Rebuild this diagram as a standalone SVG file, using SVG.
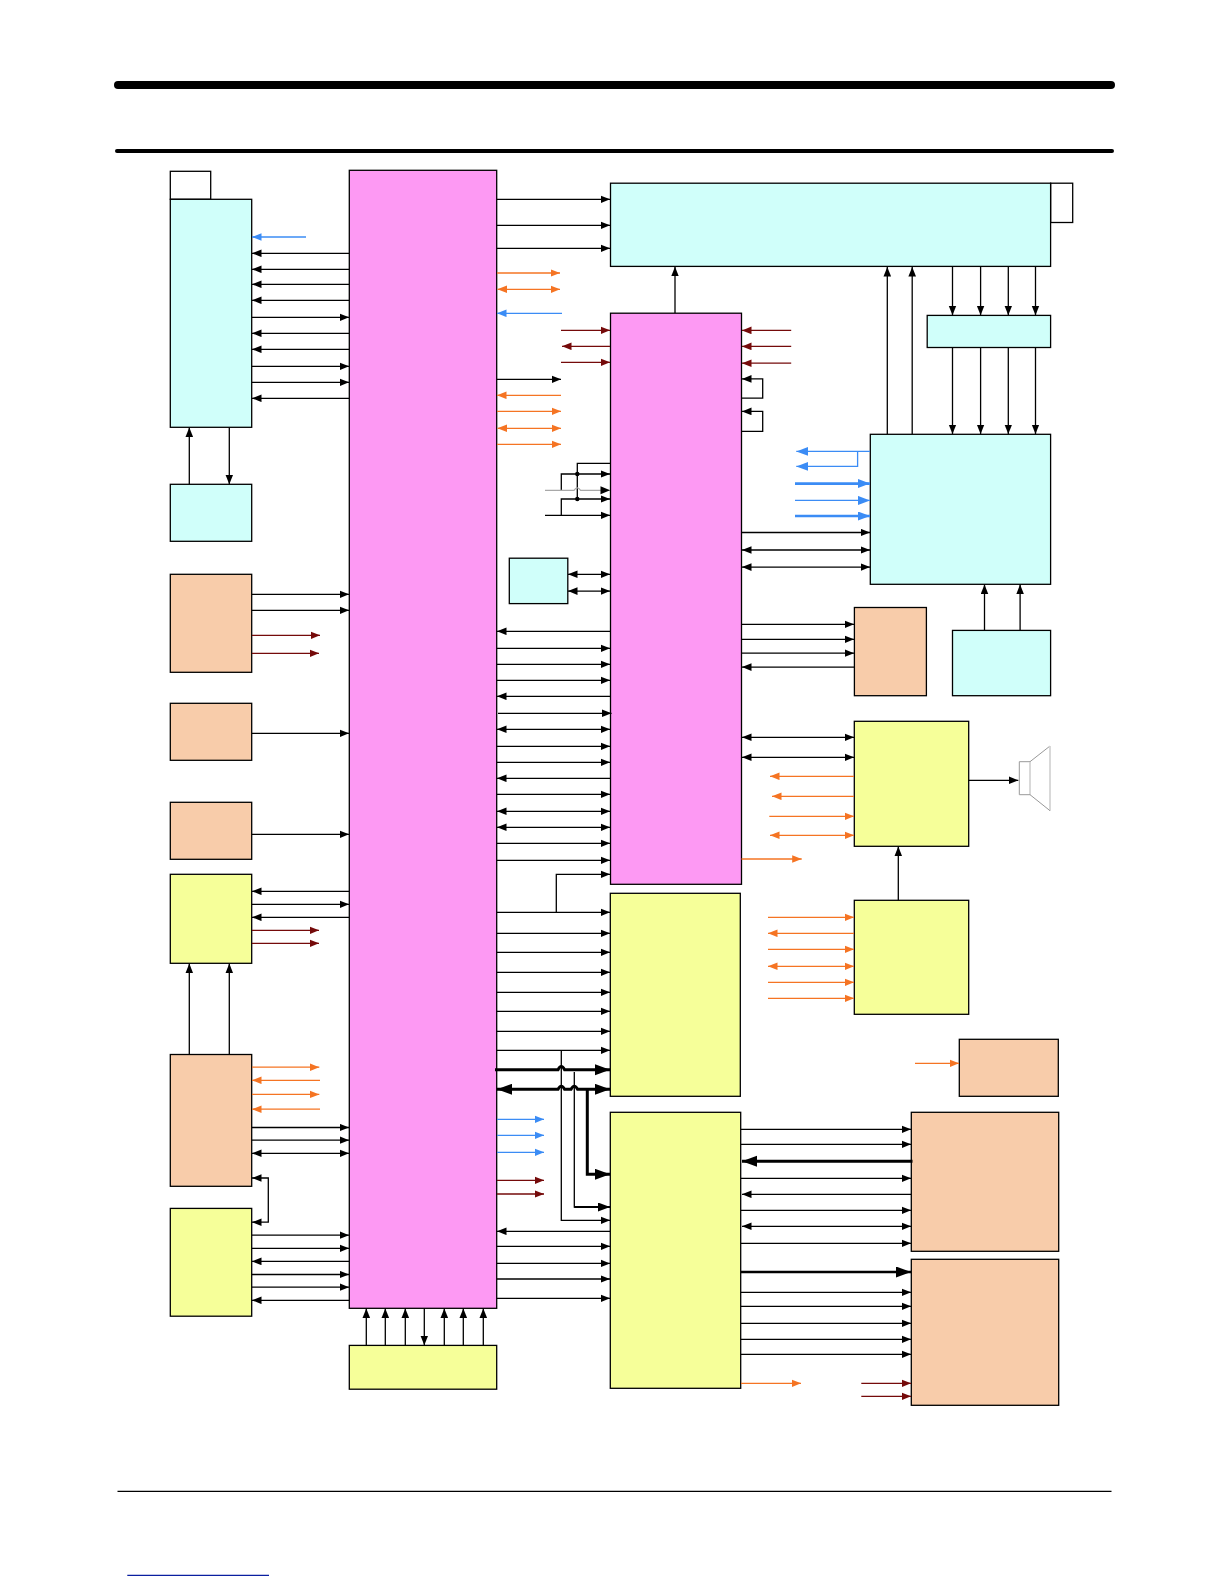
<svg xmlns="http://www.w3.org/2000/svg" width="1224" height="1584" viewBox="0 0 1224 1584">
<style>
.n{stroke:#000;stroke-width:1.3}
.m{fill:#FD99F3}.c{fill:#D0FFFA}.p{fill:#F8CCAA}.y{fill:#F6FF99}.w{fill:#fff}
path{fill:none}
.k{stroke:#000;stroke-width:1.3;marker-end:url(#ke)}
.kp{stroke:#000;stroke-width:1.3}
.kb{stroke:#000;stroke-width:1.3;marker-start:url(#ks);marker-end:url(#ke)}
.t{stroke:#000;stroke-width:3;marker-end:url(#be)}
.o{stroke:#F57423;stroke-width:1.3;marker-end:url(#oe)}
.ob{stroke:#F57423;stroke-width:1.3;marker-start:url(#os);marker-end:url(#oe)}
.b{stroke:#3B8CF5;stroke-width:1.3;marker-end:url(#ue)}
.bb{stroke:#3B8CF5;stroke-width:2.6;marker-end:url(#ve)}
.bm{stroke:#3B8CF5;stroke-width:1.3;marker-end:url(#ve)}
.r{stroke:#750A0A;stroke-width:1.3;marker-end:url(#re)}
</style>
<defs>
<marker id="ke" markerUnits="userSpaceOnUse" markerWidth="11" markerHeight="9" refX="9.5" refY="4" orient="auto"><polygon points="0,0.2 9.5,4 0,7.8" fill="#000"/></marker>
<marker id="ks" markerUnits="userSpaceOnUse" markerWidth="11" markerHeight="9" refX="0" refY="4" orient="auto"><polygon points="9.5,0.2 0,4 9.5,7.8" fill="#000"/></marker>
<marker id="me" markerUnits="userSpaceOnUse" markerWidth="13" markerHeight="10" refX="12" refY="4.5" orient="auto"><polygon points="0,0 12,4.5 0,9" fill="#000"/></marker>
<marker id="be" markerUnits="userSpaceOnUse" markerWidth="16" markerHeight="12" refX="15" refY="5.5" orient="auto"><polygon points="0,0 15,5.5 0,11" fill="#000"/></marker>
<marker id="bs" markerUnits="userSpaceOnUse" markerWidth="16" markerHeight="12" refX="0" refY="5.5" orient="auto"><polygon points="15,0 0,5.5 15,11" fill="#000"/></marker>
<marker id="oe" markerUnits="userSpaceOnUse" markerWidth="11" markerHeight="9" refX="9.5" refY="4" orient="auto"><polygon points="0,0.2 9.5,4 0,7.8" fill="#F57423"/></marker>
<marker id="os" markerUnits="userSpaceOnUse" markerWidth="11" markerHeight="9" refX="0" refY="4" orient="auto"><polygon points="9.5,0.2 0,4 9.5,7.8" fill="#F57423"/></marker>
<marker id="ue" markerUnits="userSpaceOnUse" markerWidth="11" markerHeight="9" refX="9.5" refY="4" orient="auto"><polygon points="0,0.2 9.5,4 0,7.8" fill="#3B8CF5"/></marker>
<marker id="ve" markerUnits="userSpaceOnUse" markerWidth="13" markerHeight="10" refX="12" refY="4.5" orient="auto"><polygon points="0,0 12,4.5 0,9" fill="#3B8CF5"/></marker>
<marker id="re" markerUnits="userSpaceOnUse" markerWidth="11" markerHeight="9" refX="9.5" refY="4" orient="auto"><polygon points="0,0.2 9.5,4 0,7.8" fill="#750A0A"/></marker>
</defs>
<g id="rules" fill="none" stroke-linecap="round">
<path d="M118 85H1111" stroke="#000" stroke-width="8"/>
<path d="M117 151H1112" stroke="#000" stroke-width="4"/>
<path d="M117.5 1491.3H1111.5" stroke="#000" stroke-width="1.3" stroke-linecap="butt"/>
<path d="M127.3 1575.3H269" stroke="#0A1FA0" stroke-width="1.3" stroke-linecap="butt"/>
</g>
<g id="node-a-cap"><rect class="n w" x="170.3" y="171.3" width="40.4" height="28"/></g>
<g id="node-a"><rect class="n c" x="170.3" y="199.3" width="81.4" height="228"/></g>
<g id="node-b"><rect class="n c" x="170.3" y="484.3" width="81.4" height="57"/></g>
<g id="node-main"><rect class="n m" x="349.3" y="170.3" width="147.4" height="1138"/></g>
<g id="node-top-cap"><rect class="n w" x="1050.6" y="183.2" width="22.1" height="39.3"/></g>
<g id="node-top"><rect class="n c" x="610.5" y="183.2" width="440.1" height="83.2"/></g>
<g id="node-pink2"><rect class="n m" x="610.5" y="313.2" width="131" height="571.1"/></g>
<g id="node-smallc"><rect class="n c" x="927.2" y="315.4" width="123.4" height="32.1"/></g>
<g id="node-bigc"><rect class="n c" x="870.3" y="434.3" width="180.3" height="150"/></g>
<g id="node-lowc"><rect class="n c" x="952.5" y="630.4" width="98.1" height="65.3"/></g>
<g id="node-midc"><rect class="n c" x="509.3" y="558.2" width="58.5" height="45.4"/></g>
<g id="node-rp"><rect class="n p" x="854.4" y="607.5" width="72" height="88.2"/></g>
<g id="node-p1"><rect class="n p" x="170.3" y="574.3" width="81.4" height="98"/></g>
<g id="node-p2"><rect class="n p" x="170.3" y="703.3" width="81.4" height="57"/></g>
<g id="node-p3"><rect class="n p" x="170.3" y="802.3" width="81.4" height="57"/></g>
<g id="node-y1"><rect class="n y" x="170.3" y="874.3" width="81.4" height="89"/></g>
<g id="node-p4"><rect class="n p" x="170.3" y="1054.5" width="81.4" height="131.8"/></g>
<g id="node-y2"><rect class="n y" x="170.3" y="1208.4" width="81.4" height="107.8"/></g>
<g id="node-y3"><rect class="n y" x="349.3" y="1345.4" width="147.4" height="43.8"/></g>
<g id="node-yu"><rect class="n y" x="854.3" y="721.3" width="114.4" height="125"/></g>
<g id="node-yl"><rect class="n y" x="854.3" y="900.3" width="114.4" height="114"/></g>
<g id="node-yc"><rect class="n y" x="610.3" y="893.3" width="130" height="203"/></g>
<g id="node-yd"><rect class="n y" x="610.3" y="1112.3" width="130.4" height="276"/></g>
<g id="node-ps"><rect class="n p" x="959.3" y="1039.3" width="99" height="57"/></g>
<g id="node-pa"><rect class="n p" x="911.3" y="1112.3" width="147.4" height="139"/></g>
<g id="node-pb"><rect class="n p" x="911.3" y="1259.3" width="147.4" height="146"/></g>
<g id="node-speaker"><path d="M1019.3 761.7H1030V794.7H1019.3ZM1030 761.7L1050 746V810.7L1030 794.7" stroke="#999" stroke-width="1"/><path d="M1030 762V794M1050 746V810" stroke="#ddd" stroke-width="1.6"/></g>
<g id="connectors">
<path class="b" d="M306 237H252"/>
<path class="k" d="M349 253.3H252"/><path class="k" d="M349 269.3H252"/><path class="k" d="M349 284.3H252"/><path class="k" d="M349 300.3H252"/>
<path class="k" d="M252 317.3H349"/><path class="k" d="M349 333.3H252"/><path class="k" d="M349 349.3H252"/><path class="k" d="M252 366.3H349"/><path class="k" d="M252 382.3H349"/><path class="k" d="M349 398.3H252"/>
<path class="k" d="M189.3 484.3V427.5"/><path class="k" d="M229.3 427.5V484.3"/>
<path class="k" d="M497 199.3H610"/><path class="k" d="M497 225.3H610"/><path class="k" d="M497 248.3H610"/>
<path class="o" d="M497 273H560"/><path class="ob" d="M497.5 289.3H560"/><path class="b" d="M562 313.3H497"/>
<path class="r" d="M561 330.3H610"/><path class="r" d="M610 346.3H562"/><path class="r" d="M561 362.3H610"/>
<path class="k" d="M497 379.3H561"/><path class="o" d="M561 395.3H497"/><path class="o" d="M497 411.3H561"/><path class="ob" d="M497.5 428.3H561"/><path class="o" d="M497 444.3H561"/>
<path class="kp" d="M610.5 463.3H577.3V499"/>
<path class="k" d="M561.3 490V474H610"/>
<path d="M545 490.3H574Q577.3 485.5 580.6 490.3H610" stroke="#a8a8a8" stroke-width="1.2"/>
<polygon points="600.5,486.3 610,490.3 600.5,494.3" fill="#000"/>
<path class="k" d="M561.3 515.3V499H610"/>
<path class="k" d="M545 515.3H610"/>
<circle cx="577.3" cy="474" r="2.2" fill="#000"/><circle cx="577.3" cy="499" r="2.2" fill="#000"/>
<path class="k" d="M675 313V266.8"/><path class="k" d="M887.3 434V267"/><path class="k" d="M912.2 434V267"/>
<path class="k" d="M952.5 266.4V315.2"/><path class="k" d="M980.6 266.4V315.2"/><path class="k" d="M1008.3 266.4V315.2"/><path class="k" d="M1035.5 266.4V315.2"/>
<path class="k" d="M952.5 347.5V434"/><path class="k" d="M980.6 347.5V434"/><path class="k" d="M1008.3 347.5V434"/><path class="k" d="M1035.5 347.5V434"/>
<path class="k" d="M984.5 630.4V584.6"/><path class="k" d="M1020.1 630.4V584.6"/>
<path class="kb" d="M568 574.3H610"/><path class="kb" d="M568 591.1H610"/>
<path class="r" d="M791.2 330.4H742"/><path class="r" d="M791.2 346.4H742"/><path class="r" d="M791.2 363.2H742"/>
<path class="k" d="M741.5 398.2H762.7V378.9H742"/><path class="k" d="M741.5 431.4H762.7V411.4H742"/>
<path class="bm" d="M870 451.4H796.3"/><path class="bm" d="M857.6 451.4V466.4H796.3"/>
<path class="bb" d="M795 483.6H870"/><path class="bm" d="M795 500.4H870"/><path class="bb" d="M795 516H870"/>
<path class="k" d="M741.5 532.5H870"/><path class="kb" d="M742 550H870"/><path class="kb" d="M742 567.1H870"/>
<path class="k" d="M741.5 624.3H854"/><path class="k" d="M741.5 639.3H854"/><path class="k" d="M741.5 653.2H854"/><path class="k" d="M854 667.1H742"/>
<path class="k" d="M252 594.3H349"/><path class="k" d="M252 610.3H349"/>
<path class="r" d="M252 635.3H320"/><path class="r" d="M252 653.3H319"/>
<path class="k" d="M252 733.3H349"/><path class="k" d="M252 834.3H349"/>
<path class="k" d="M349 891.3H252"/><path class="k" d="M252 904.3H349"/><path class="k" d="M349 917.3H252"/>
<path class="r" d="M252 930.3H319"/><path class="r" d="M252 943.3H319"/>
<path class="k" d="M189.3 1054.5V963.6"/><path class="k" d="M229.3 1054.5V963.6"/>
<path class="o" d="M252 1067.2H319.3"/><path class="o" d="M320 1080.3H252"/><path class="o" d="M252 1094.4H319.3"/><path class="o" d="M320 1109.2H252"/>
<path class="k" d="M252 1127.5H349"/><path class="k" d="M252 1140.2H349"/><path class="kb" d="M252 1153.3H349"/>
<path class="kb" d="M252 1178H268.3V1222.2H252"/>
<path class="k" d="M252 1235.2H349"/><path class="k" d="M252 1248.3H349"/><path class="k" d="M349 1261.4H252"/><path class="k" d="M252 1274.5H349"/><path class="k" d="M252 1287.2H349"/><path class="k" d="M349 1300.3H252"/>
<path class="k" d="M366.3 1345.4V1308.5"/><path class="k" d="M385.3 1345.4V1308.5"/><path class="k" d="M405.3 1345.4V1308.5"/><path class="k" d="M424.3 1308.3V1345.2"/><path class="k" d="M444.3 1345.4V1308.5"/><path class="k" d="M463.3 1345.4V1308.5"/><path class="k" d="M483.3 1345.4V1308.5"/>
<path class="k" d="M610 631.3H497"/><path class="k" d="M497 648.3H610"/><path class="k" d="M497 664.3H610"/><path class="k" d="M497 680.3H610"/><path class="k" d="M610 696.3H497"/><path class="k" d="M498 713.3H611.5"/><path class="kb" d="M497 729.3H610"/><path class="k" d="M497 746.3H610"/><path class="k" d="M497 762.3H610"/><path class="k" d="M610 778.3H497"/><path class="k" d="M497 794.3H610"/><path class="kb" d="M497 811.3H610"/><path class="kb" d="M497 827.3H610"/><path class="k" d="M497 843.3H610"/><path class="k" d="M497 860.3H610"/>
<path class="k" d="M556.3 912.3V874.3H610"/><path class="k" d="M497 912.3H610"/>
<path class="k" d="M497 933.3H610"/><path class="k" d="M497 952.3H610"/><path class="k" d="M497 972.3H610"/><path class="k" d="M497 992.3H610"/><path class="k" d="M497 1011.3H610"/><path class="k" d="M497 1031.3H610"/><path class="k" d="M497 1050.3H610"/>
<path class="kb" d="M742 737.3H854"/><path class="kb" d="M742 757.3H854"/>
<path class="o" d="M854 776.3H770"/><path class="o" d="M854 796.3H772"/><path class="o" d="M769.3 816.3H854"/><path class="ob" d="M770 835.3H854"/><path class="o" d="M741.5 859H801.7"/>
<path class="k" d="M968.7 780.3H1018.3"/><path class="k" d="M898.3 900.3V846.6"/>
<path class="o" d="M768 917.3H854"/><path class="o" d="M854 933.3H768"/><path class="o" d="M768 949.3H854"/><path class="ob" d="M768 966.3H854"/><path class="o" d="M768 982.3H854"/><path class="o" d="M768 998.3H854"/>
<path class="o" d="M915 1063.3H959"/>
<path class="t" d="M495 1069.7H558Q561.3 1063.5 564.6 1069.7H610"/>
<path d="M497 1089.3H558Q561.3 1083 564.6 1089.3H571Q574.3 1083 577.6 1089.3H610" stroke="#000" stroke-width="3" marker-start="url(#bs)" marker-end="url(#be)"/>
<path class="k" d="M561.3 1050.3V1220.3H610"/>
<path d="M574.3 1072V1207H610" stroke="#000" stroke-width="1.3"/>
<path d="M574.3 1207H610" stroke="#000" stroke-width="2" marker-end="url(#me)"/>
<path class="t" d="M587.3 1089.3V1174.3H610"/>
<path class="b" d="M497 1119.3H544"/><path class="b" d="M497 1135.3H544"/><path class="b" d="M497 1152.3H544"/>
<path class="r" d="M497 1180.3H544"/><path class="r" d="M497 1194H544"/>
<path class="k" d="M610 1231.3H497"/><path class="k" d="M497 1246.3H610"/><path class="k" d="M497 1263.4H610"/><path class="k" d="M497 1279H610"/><path class="k" d="M497 1298.3H610"/>
<path class="k" d="M741 1129.3H911"/><path class="k" d="M741 1144.3H911"/><path d="M912.5 1161.3H742" stroke="#000" stroke-width="3" marker-end="url(#be)"/><path class="k" d="M741 1178.3H911"/><path class="k" d="M911 1194.3H742"/><path class="k" d="M741 1210.3H911"/><path class="kb" d="M742 1226.3H911"/><path class="k" d="M741 1243.3H911"/>
<path class="t" style="stroke-width:2.4" d="M741 1272H911"/>
<path class="k" d="M741 1292.3H911"/><path class="k" d="M741 1306.3H911"/><path class="k" d="M741 1323.3H911"/><path class="k" d="M741 1339.3H911"/><path class="k" d="M741 1354.3H911"/>
<path class="o" d="M741 1383.3H801"/><path class="r" d="M861.3 1383.3H911"/><path class="r" d="M861.3 1396.3H911"/>
</g>
</svg>
